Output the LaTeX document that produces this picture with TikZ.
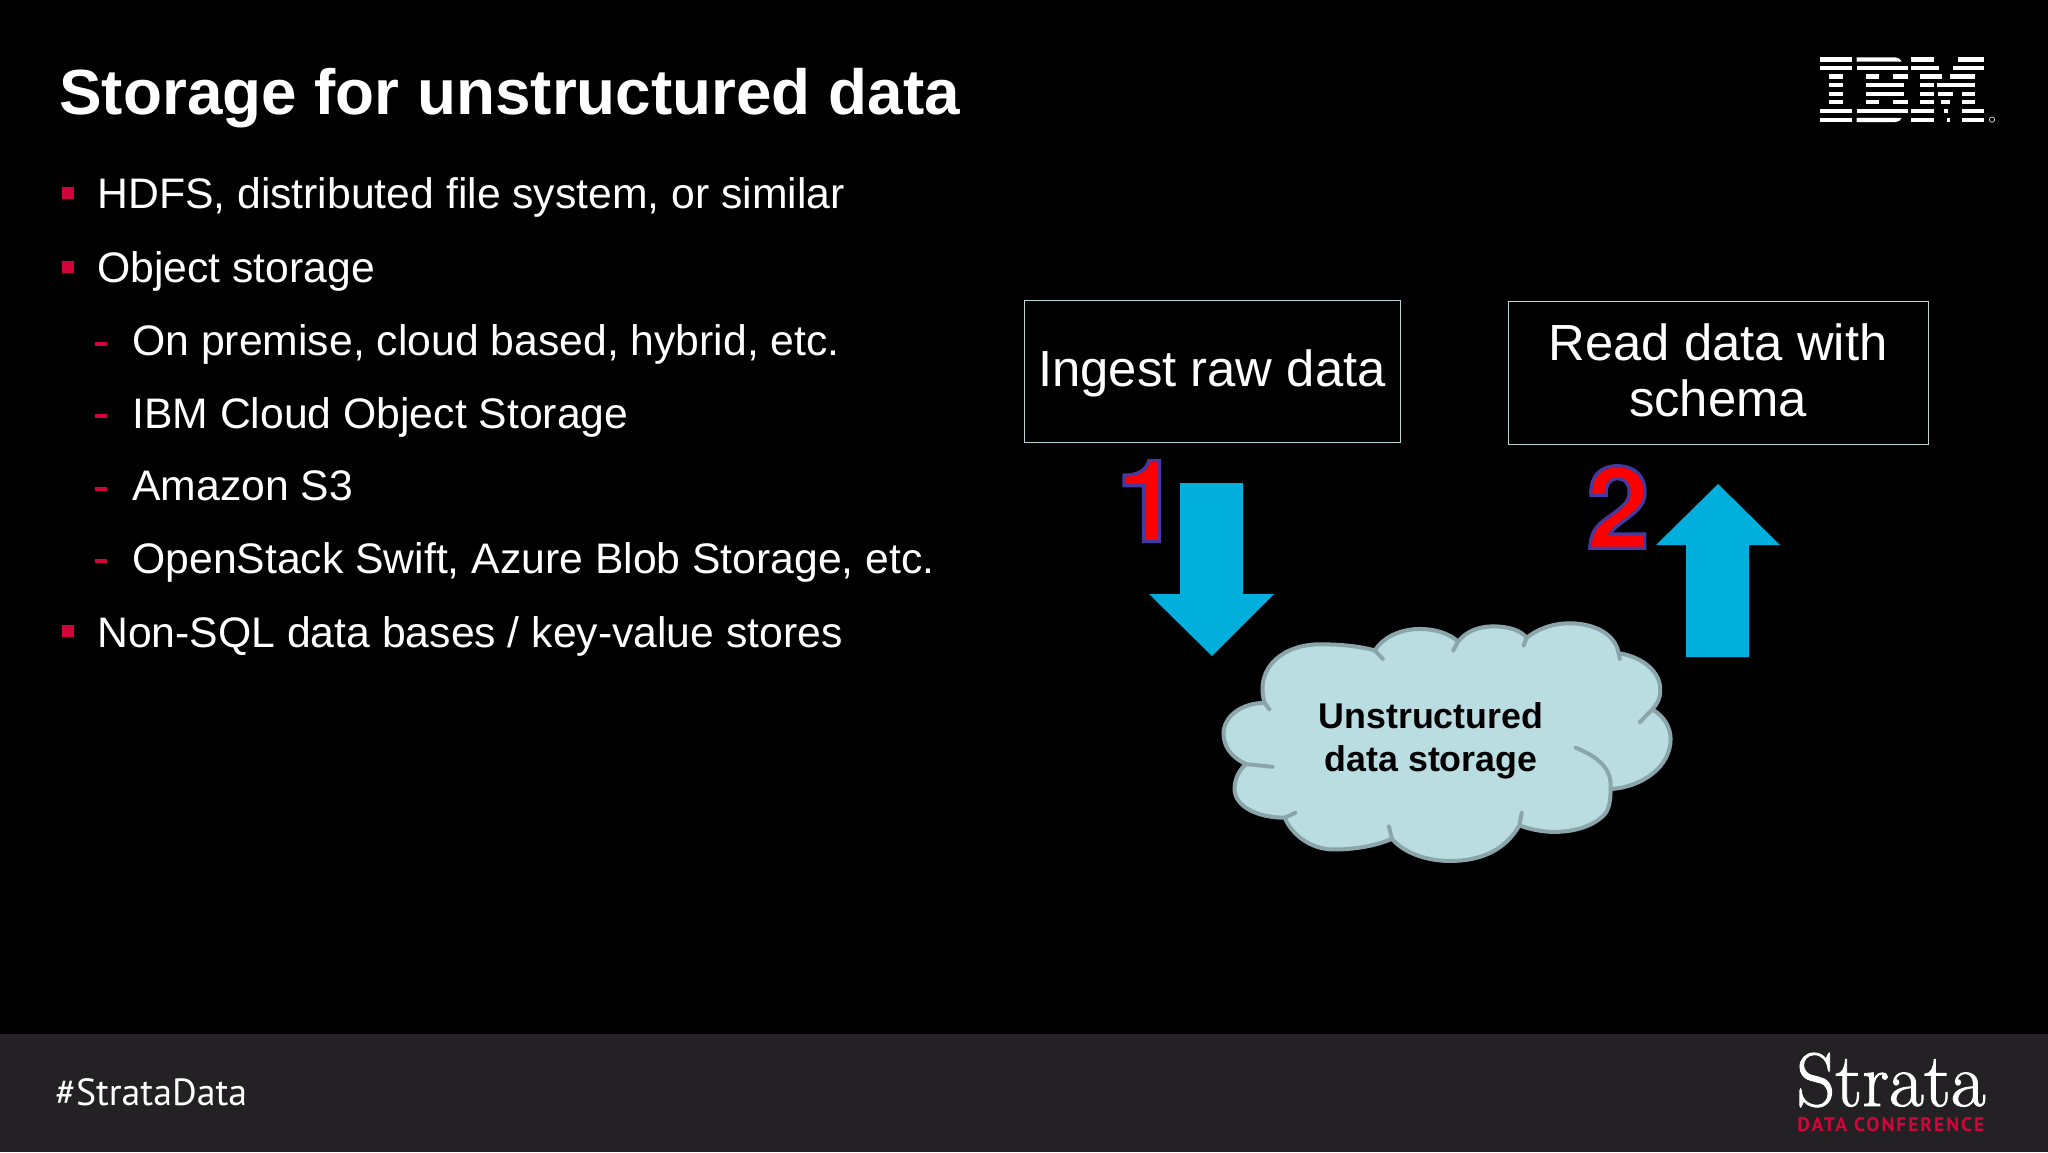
\documentclass[tikz,border=0pt]{standalone}
\usepackage{fontspec}
\setmainfont{Liberation Sans}
\newfontfamily\ptsans{PT Sans}
\newfontfamily\ptsansb[LetterSpace=10]{PT Sans Bold}
\newfontfamily\logoserif{Latin Modern Roman}
\newfontfamily\numfont{TeX Gyre Heros Bold}
\definecolor{footerbg}{HTML}{232123}
\definecolor{acc}{HTML}{D0063A}
\definecolor{arrowblue}{HTML}{00AFDB}
\definecolor{cloudfill}{HTML}{B9DDE1}
\definecolor{cloudline}{HTML}{8BA6AA}
\definecolor{boxline}{HTML}{B8D4D4}
\definecolor{logored}{HTML}{D0063A}
\tikzset{
  body/.style={anchor=base west,inner sep=0pt,text=white,font=\fontsize{21.35}{25}\selectfont},
  titletext/.style={anchor=base west,inner sep=0pt,text=white,font=\bfseries\fontsize{31.9}{36}\selectfont},
  bulletmark/.style={fill=acc,draw=none},
  flowbox/.style={draw=boxline,line width=0.5pt,inner sep=0pt,align=center,text=white,font=\fontsize{25.4}{28}\selectfont},
  bigarrow/.style={fill=arrowblue,draw=none},
  cloudshape/.style={fill=cloudfill,draw=cloudline,line width=2pt,line join=round},
  cloudtail/.style={draw=cloudline,line width=2pt,line cap=round},
  numeral/.style={inner sep=0pt,font=\numfont\fontsize{57}{57}\selectfont},
}
\newcommand{\outlined}[1]{\textcolor{red}{\special{pdf:code 0.27 0.22 0.62 RG 1.6 w 2 Tr}#1\special{pdf:code 0 Tr}}}
\newcommand{\heavier}[1]{\special{pdf:code 1 1 1 RG 0.45 w 2 Tr}#1\special{pdf:code 0 Tr}}
\newcommand{\ibmbar}[3]{\fill[white] (#2,#1) rectangle (#3,#1+12.5);}
\begin{document}
\begin{tikzpicture}[x=0.5pt,y=-0.5pt]
\useasboundingbox (0,0) rectangle (2048,1152);
\fill[black] (0,0) rectangle (2048,1152);
\fill[footerbg] (0,1034) rectangle (2048,1152);
\node[titletext] (title) at (59,114) {Storage for unstructured data};
% bullets
\foreach \yy in {193,267,631} {\fill[bulletmark] (62,\yy-6) rectangle (74,\yy+6);}
\foreach \yy in {344,416,489,561} {\fill[bulletmark] (95,\yy-2) rectangle (107,\yy+2);}
\node[body] (b1) at (97,208) {HDFS, distributed file system, or similar};
\node[body] (b2) at (97,282) {Object storage};
\node[body] (b3) at (132,355) {On premise, cloud based, hybrid, etc.};
\node[body] (b4) at (132,428) {IBM Cloud Object Storage};
\node[body] (b5) at (132,500) {Amazon S3};
\node[body] (b6) at (132,573) {OpenStack Swift, Azure Blob Storage, etc.};
\node[body] (b7) at (97,647.5) {Non-SQL data bases / key-value stores};
% boxes
\node[flowbox,minimum width=188pt,minimum height=71pt] (ingest) at (1212,371) {\raisebox{-7.8pt}[0pt][0pt]{Ingest raw data}};
\node[flowbox,minimum width=210pt,minimum height=71.5pt] (readbox) at (1718,372.5) {\raisebox{-21.9pt}[0pt][0pt]{\begin{tabular}[b]{@{}c@{}}Read data with\\schema\end{tabular}}};
% arrows
\fill[bigarrow] (1180,483) -- (1243,483) -- (1243,594) -- (1274,594) -- (1212,656) -- (1149,594) -- (1180,594) -- cycle;
\fill[bigarrow] (1686,657) -- (1749,657) -- (1749,545) -- (1780,545) -- (1718,484) -- (1656,545) -- (1686,545) -- cycle;
% numerals
\node[numeral] (n1) at (1148,501) {\outlined{1}};
\node[numeral] (n2) at (1618,507) {\outlined{2}};
% cloud
\begin{scope}[shift={(1000,280)},xscale=0.6124,yscale=0.3827]
\path[cloudshape] (432,1105)
 .. controls (415,1010) and (465,950) .. (525,952)
 .. controls (560,952) and (590,958) .. (612,968)
 .. controls (625,935) and (650,915) .. (680,912)
 .. controls (710,910) and (735,925) .. (748,945)
 .. controls (760,920) and (780,905) .. (805,905)
 .. controls (830,905) and (850,915) .. (860,935)
 .. controls (875,915) and (900,897) .. (930,897)
 .. controls (970,897) and (1005,925) .. (1010,975)
 .. controls (1050,985) and (1080,1025) .. (1078,1075)
 .. controls (1078,1095) and (1072,1110) .. (1065,1122)
 .. controls (1085,1140) and (1095,1170) .. (1095,1200)
 .. controls (1095,1270) and (1050,1325) .. (997,1330)
 .. controls (997,1360) and (995,1385) .. (985,1400)
 .. controls (965,1430) and (935,1442) .. (905,1442)
 .. controls (885,1442) and (865,1435) .. (848,1425)
 .. controls (825,1490) and (785,1518) .. (735,1518)
 .. controls (690,1518) and (655,1490) .. (640,1460)
 .. controls (615,1478) and (580,1488) .. (545,1488)
 .. controls (505,1488) and (475,1445) .. (465,1405)
 .. controls (420,1405) and (383,1375) .. (383,1330)
 .. controls (383,1305) and (390,1280) .. (402,1265)
 .. controls (375,1245) and (365,1215) .. (365,1185)
 .. controls (365,1140) and (395,1105) .. (432,1105) -- cycle;
\draw[cloudtail] (612,968) -- (625,990);
\draw[cloudtail] (748,945) -- (740,968);
\draw[cloudtail] (860,935) -- (855,955);
\draw[cloudtail] (1010,975) -- (1012,990);
\draw[cloudtail] (1065,1122) -- (1045,1155);
\draw[cloudtail] (997,1330) .. controls (1000,1275) and (975,1245) .. (940,1222);
\draw[cloudtail] (848,1425) -- (852,1392);
\draw[cloudtail] (640,1460) -- (635,1428);
\draw[cloudtail] (465,1405) -- (482,1392);
\draw[cloudtail] (402,1265) -- (445,1272);
\draw[cloudtail] (432,1105) -- (440,1122);
\end{scope}
\node[inner sep=0pt,align=center,text=black,font=\bfseries\fontsize{17.9}{21.5}\selectfont] (cloudlabel) at (1431,741) {Unstructured\\data storage};
% IBM logo
\begin{scope}[shift={(1780,40)},xscale=0.3333,yscale=0.3333]
\foreach \a/\b/\c in {52/120/215,78/120/215,103/148/188,129/148/188,155/148/188,180/148/188,207/120/215,234/120/215,
 103/258/298,103/340/385,129/258/372,155/258/372,180/258/298,180/340/385,78/230/385,207/230/385,
 52/393/462,52/533/612,78/393/477,78/518/612,103/421/487,103/510/585,129/421/462,129/470/500,129/495/585,
 155/421/462,155/475/518,155/545/585,180/421/462,180/483/510,180/545/585,207/393/462,207/492/503,207/545/612,
 234/393/462,234/500/510,234/545/612}{\ibmbar{\a}{\b}{\c}}
\fill[white] (230,52) -- (345,52) .. controls (355,52) and (362,58) .. (365,64.5) -- (230,64.5) -- cycle;
\fill[white] (230,234) -- (365,234) .. controls (362,241) and (355,246.5) .. (345,246.5) -- (230,246.5) -- cycle;
\draw[white,line width=0.3pt] (636,239) circle (8);
\end{scope}
% footer
\node[anchor=base west,inner sep=0pt,text=white,font=\ptsans\fontsize{18.9}{22}\selectfont] (tag) at (55,1105) {\#StrataData};
\node[anchor=base west,inner sep=0pt,text=white,font=\logoserif\fontsize{38}{40}\selectfont] (strata) at (1796,1106) {\heavier{Strata}};
\node[anchor=base west,inner sep=0pt,text=logored,font=\ptsansb\fontsize{9.8}{11}\selectfont] (conf) at (1797,1131) {DATA CONFERENCE};
\end{tikzpicture}
\end{document}
